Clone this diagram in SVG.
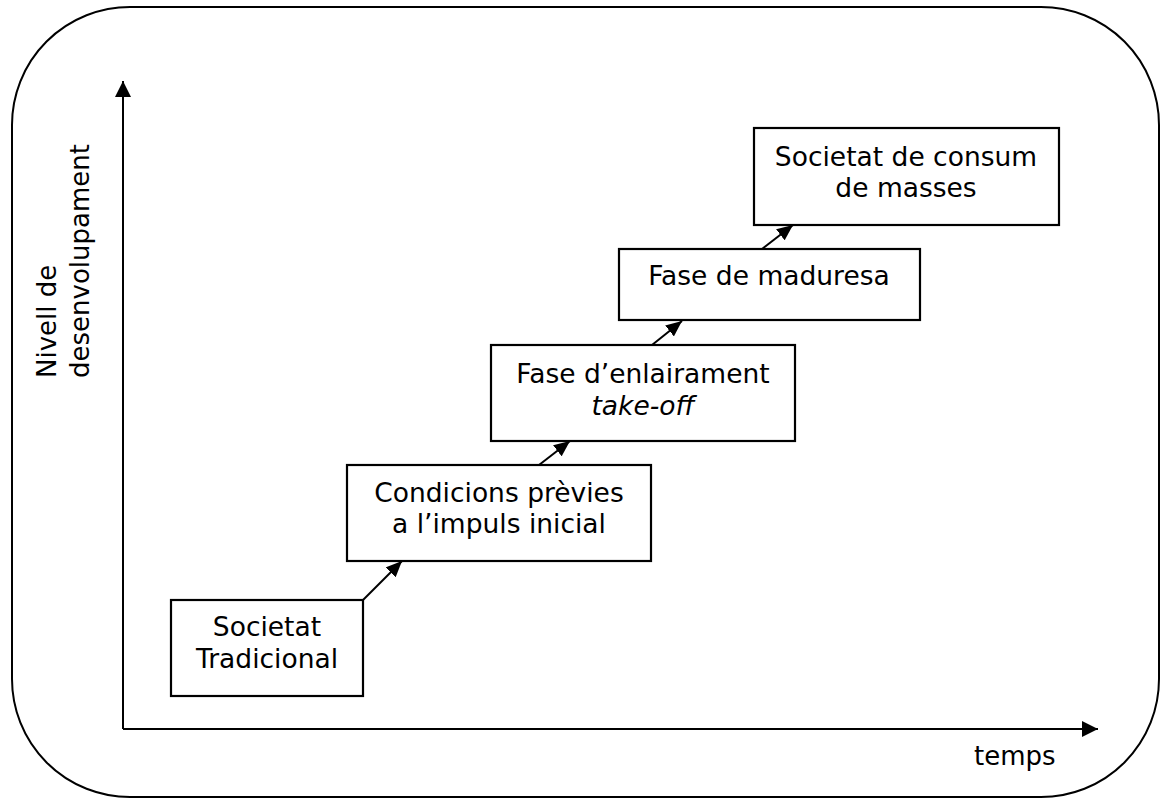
<svg xmlns="http://www.w3.org/2000/svg" width="1160" height="798" viewBox="0 0 1160 798">
<style>
.box{fill:#fff;stroke:#000;stroke-width:2.2}
.t{font-family:"DejaVu Sans","Verdana",sans-serif;font-size:26.5px;fill:#000;text-anchor:middle}
.lbl{font-family:"DejaVu Sans","Verdana",sans-serif;font-size:26px;fill:#000}
.ax{stroke:#000;stroke-width:2;fill:none}
.cn{stroke:#000;stroke-width:2;fill:none}
</style>
<defs>
<marker id="big" markerUnits="userSpaceOnUse" markerWidth="16" markerHeight="16" refX="16" refY="8" orient="auto">
<path d="M0,0 L16,8 L0,16 z" fill="#000"/>
</marker>
<marker id="sm" markerUnits="userSpaceOnUse" markerWidth="16" markerHeight="14" refX="16" refY="7" orient="auto">
<path d="M0,0 L16,7 L0,14 z" fill="#000"/>
</marker>
</defs>
<rect x="12" y="7" width="1147" height="790" rx="118" ry="118" fill="none" stroke="#000" stroke-width="2"/>
<g id="axes">
<line class="ax" x1="123" y1="729" x2="123" y2="81" marker-end="url(#big)"/>
<line class="ax" x1="123" y1="729" x2="1098" y2="729" marker-end="url(#big)"/>
</g>
<g id="ylabel">
<text class="lbl" transform="translate(56,378) rotate(-90)">Nivell de</text>
<text class="lbl" transform="translate(89,378) rotate(-90)">desenvolupament</text>
</g>
<g id="xlabel">
<text class="lbl" x="974" y="765">temps</text>
</g>
<g id="connectors">
<line class="cn" x1="363" y1="600" x2="402" y2="561" marker-end="url(#sm)"/>
<line class="cn" x1="539" y1="465" x2="570" y2="441" marker-end="url(#sm)"/>
<line class="cn" x1="652" y1="345" x2="682" y2="321" marker-end="url(#sm)"/>
<line class="cn" x1="762" y1="249" x2="793" y2="225" marker-end="url(#sm)"/>
</g>
<g id="n1">
<rect class="box" x="171" y="600" width="192" height="96"/>
<text class="t" x="267" y="636">Societat</text>
<text class="t" x="267" y="668">Tradicional</text>
</g>
<g id="n2">
<rect class="box" x="347" y="465" width="304" height="96"/>
<text class="t" x="499" y="502">Condicions prèvies</text>
<text class="t" x="499" y="533">a l’impuls inicial</text>
</g>
<g id="n3">
<rect class="box" x="491" y="345" width="304" height="96"/>
<text class="t" x="643" y="383">Fase d’enlairament</text>
<text class="t" x="643" y="415" font-style="italic">take-off</text>
</g>
<g id="n4">
<rect class="box" x="619" y="249" width="301" height="71"/>
<text class="t" x="769" y="285">Fase de maduresa</text>
</g>
<g id="n5">
<rect class="box" x="754" y="128" width="305" height="97"/>
<text class="t" x="906" y="166">Societat de consum</text>
<text class="t" x="906" y="197">de masses</text>
</g>
</svg>
